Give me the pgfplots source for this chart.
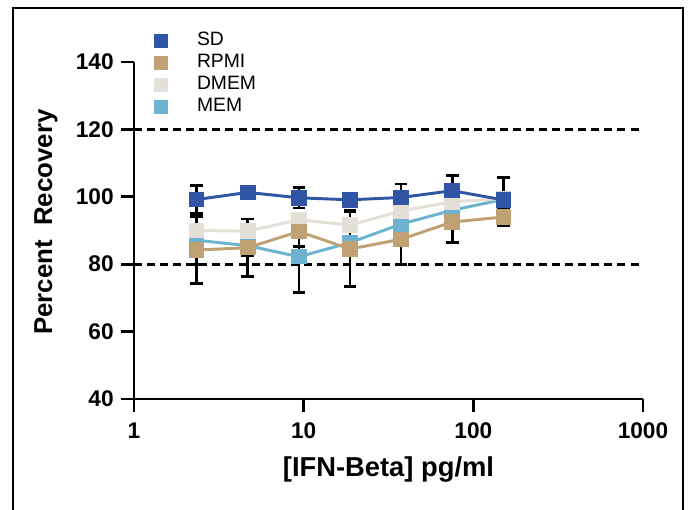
\documentclass[border=0pt]{standalone}
\usepackage{pgfplots}
\pgfplotsset{compat=1.18}
\usepackage{fontspec}
\setmainfont{Liberation Sans}
\definecolor{sdblue}{HTML}{2F55A4}
\definecolor{rpmitan}{HTML}{BFA173}
\definecolor{dmemgray}{HTML}{E4E0D8}
\definecolor{memblue}{HTML}{6DB3D0}

% dilution series: x, mean, error
\pgfplotstableread{
x      y      e
2.34375 99.2  4.2
4.6875  101.3 0.8
9.375   99.7  3.0
18.75   99.1  1.5
37.5    99.8  4.0
75      101.8 4.5
150     99.1  6.6
}\sd
\pgfplotstableread{
x      y      e
2.34375 84.2  10.0
4.6875  84.9  8.5
9.375   89.7  4.5
18.75   84.5  11.0
37.5    87.4  7.6
75      92.5  6.0
150     94.0  2.4
}\rpmi
\pgfplotstableread{
x      y      e
2.34375 90.0  1.0
4.6875  89.8  1.0
9.375   93.2  2.0
18.75   91.6  4.5
37.5    95.8  1.5
75      98.5  1.5
150     99.5  1.0
}\dmem
\pgfplotstableread{
x      y      e
2.34375 87.1  7.2
4.6875  85.5  3.0
9.375   82.2  10.5
18.75   86.4  1.5
37.5    91.9  1.2
75      96.0  1.0
150     99.2  1.0
}\mem

\pgfplotsset{
  series/.style={color=#1, line width=2.2pt, mark=square*, mark size=5.4pt,
    mark options={solid, fill=#1, draw=#1, line width=0pt},
    error bars/y dir=both, error bars/y explicit,
    error bars/error bar style={black, line width=2.1pt},
    error bars/error mark options={black, line width=2.1pt, mark size=4.8pt, rotate=90}},
}

\begin{document}
\begin{tikzpicture}
\begin{scope}[x=0.75pt,y=0.75pt]
\useasboundingbox (0,0) rectangle (689,510);
\draw[line width=1.5pt] (13,-10) -- (13,502) -- (683,502) -- (683,-10);
\end{scope}
\begin{axis}[
  at={(100.5pt,83.25pt)}, anchor=south west, scale only axis,
  width=381.75pt, height=252.75pt,
  xmode=log, xmin=1, xmax=1000, ymin=40, ymax=140,
  clip=false,
  axis lines=left,
  axis line style={-, line width=2pt, black},
  tick style={line width=2pt, black},
  tick align=outside, major tick length=9.75pt,
  xminorticks=false, yminorticks=false,
  xtick={1,10,100,1000}, xticklabels={1,10,100,1000},
  ytick={40,60,80,100,120,140},
  /pgf/number format/assume math mode=true,
  tick label style={font=\fontsize{17}{19}\selectfont\bfseries},
  xticklabel style={yshift=-4.5pt},
  yticklabel style={xshift=-2pt},
  xlabel={[IFN-Beta] pg/ml},
  ylabel={Percent\ \ Recovery},
  xlabel style={font=\fontsize{20.5}{22}\selectfont\bfseries,
    at={(axis description cs:0.5,-0.2285)}, anchor=base},
  ylabel style={font=\fontsize{19.4}{21}\selectfont\bfseries,
    at={(axis description cs:-0.173,0.525)}, anchor=center},
  legend style={at={(axis description cs:0.04,1.095)}, anchor=north west,
    draw=none, fill=none, inner sep=0pt, outer sep=0pt,
    font=\fontsize{14.5}{16}\selectfont, row sep=0pt,
    nodes={text height=10.5pt, text depth=4pt, inner sep=1pt},
    /tikz/every odd column/.append style={column sep=21pt}},
  legend cell align=left,
]
\addlegendimage{only marks, mark=square*, mark size=5pt, color=sdblue}
\addlegendentry{SD}
\addlegendimage{only marks, mark=square*, mark size=5pt, color=rpmitan}
\addlegendentry{RPMI}
\addlegendimage{only marks, mark=square*, mark size=5pt, color=dmemgray}
\addlegendentry{DMEM}
\addlegendimage{only marks, mark=square*, mark size=5pt, color=memblue}
\addlegendentry{MEM}

\addplot[black, line width=2pt, dash pattern=on 6pt off 3.8pt, forget plot]
  coordinates {(1,80)(1000,80)};
\addplot[black, line width=2pt, dash pattern=on 6pt off 3.8pt, forget plot]
  coordinates {(1,120)(1000,120)};

\addplot[forget plot, series=memblue] table[x=x, y=y, y error=e] {\mem};
\addplot[forget plot, series=dmemgray] table[x=x, y=y, y error=e] {\dmem};
\addplot[forget plot, series=rpmitan] table[x=x, y=y, y error=e] {\rpmi};
\addplot[forget plot, series=sdblue] table[x=x, y=y, y error=e] {\sd};
\end{axis}
\end{tikzpicture}
\end{document}
